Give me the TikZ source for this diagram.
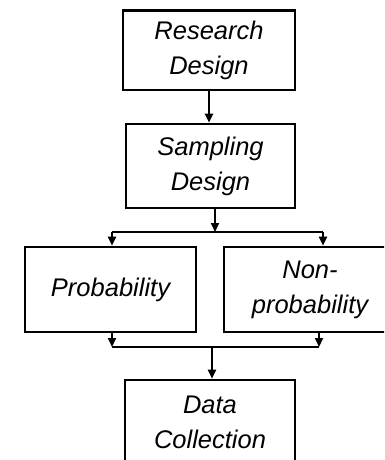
\documentclass[tikz,border=0pt]{standalone}
\usepackage{fontspec}
\setmainfont{Liberation Sans}
\usetikzlibrary{arrows.meta}

\tikzset{
  box/.style={draw=black, line width=2.6pt, fill=white, inner sep=0pt,
    align=center, font=\itshape\fontsize{25.5}{35}\selectfont},
  link/.style={line width=2pt, draw=black},
  arrowlink/.style={link, -{Triangle[length=9pt,width=8pt]}}
}

\begin{document}
\begin{tikzpicture}[x=1pt, y=-1pt]
  \useasboundingbox (0,0) rectangle (384,460);
  \clip (0,0) rectangle (384,460);

  % stages of the process
  \node[box, minimum width=172pt, minimum height=79.5pt] (rd) at (209,50.25) {Research\\Design};
  \node[box, minimum width=169pt, minimum height=84pt] (sd) at (210.5,166) {Sampling\\Design};
  \node[box, minimum width=171pt, minimum height=85pt] (pr) at (110.5,289.5) {Probability};
  \node[box, minimum width=172pt, minimum height=85pt] (np) at (310,289.5) {Non-\\probability};
  \node[box, minimum width=170pt, minimum height=84pt] (dc) at (210,422) {Data\\Collection};

  % junction points of the split and merge bars
  \coordinate (split) at (215,232);
  \coordinate (bl) at (112,232);
  \coordinate (br) at (323,232);
  \coordinate (jl) at (112,347);
  \coordinate (jr) at (319,347);
  \coordinate (join) at (212,347);

  % research design to sampling design
  \draw[arrowlink] (rd.south) -- (rd.south |- sd.north);

  % sampling design splits into the two branches
  \draw[arrowlink] (sd.south -| split) -- (split);
  \draw[link] (bl) -- (br);
  \draw[arrowlink] (bl) -- (bl |- pr.north);
  \draw[arrowlink] (br) -- (br |- np.north);

  % both branches merge into data collection
  \draw[arrowlink] (pr.south -| jl) -- (jl);
  \draw[arrowlink] (np.south -| jr) -- (jr);
  \draw[link] (jl) -- (jr);
  \draw[arrowlink] (join) -- (join |- dc.north);
\end{tikzpicture}
\end{document}
